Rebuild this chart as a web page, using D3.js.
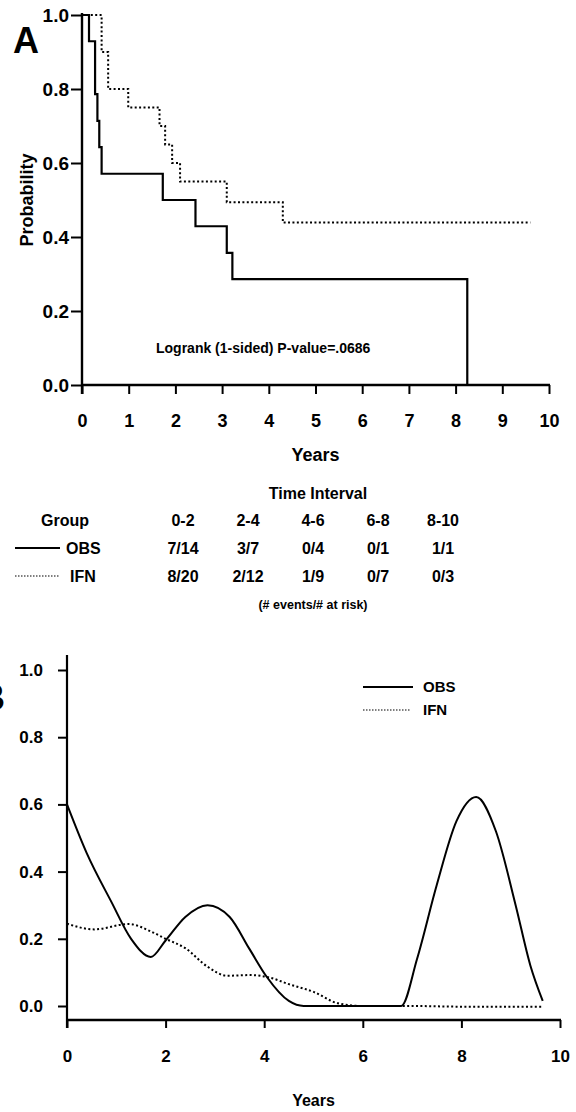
<!DOCTYPE html>
<html><head><meta charset="utf-8">
<script src="https://cdn.jsdelivr.net/npm/d3@7"></script>
<style>
html,body{margin:0;padding:0;background:#fff;}
svg{display:block;font-family:"Liberation Sans",Arial,Helvetica,sans-serif;}
</style></head>
<body>
<svg id="chart" width="576" height="1112"></svg>
<script>
// ---------- Data ----------
// Panel A: Kaplan-Meier survival estimates (time in years, probability)
const obsKmTimes = [0, 0.15, 0.28, 0.33, 0.37, 0.42, 1.73, 2.43, 3.10, 3.22, 8.25];
const obsKmSurv  = [1.0, 0.929, 0.786, 0.714, 0.643, 0.571, 0.500, 0.429, 0.357, 0.286, 0.0];
const ifnKmTimes = [0, 0.42, 0.56, 0.99, 1.66, 1.78, 1.93, 2.10, 3.10, 4.30, 9.60];
const ifnKmSurv  = [1.0, 0.90, 0.80, 0.75, 0.70, 0.65, 0.60, 0.55, 0.494, 0.439, 0.439];
const kmXTicks = [0,1,2,3,4,5,6,7,8,9,10];
const kmYTicks = [0.0,0.2,0.4,0.6,0.8,1.0];
const pValueText = "Logrank (1-sided) P-value=.0686";

// Risk table
const intervals = ["0-2","2-4","4-6","6-8","8-10"];
const groups = ["OBS","IFN"];
const obsEvents = ["7/14","3/7","0/4","0/1","1/1"];
const ifnEvents = ["8/20","2/12","1/9","0/7","0/3"];

// Panel B: smoothed hazard estimates
const obsHazTimes = [0, 0.4, 0.9, 1.3, 1.7, 2.0, 2.4, 2.85, 3.3, 3.7, 4.05, 4.5, 4.8, 5.5, 6.5, 6.78, 7.1, 7.5, 7.9, 8.3, 8.7, 9.1, 9.4, 9.65];
const obsHazVals  = [0.60, 0.455, 0.31, 0.20, 0.146, 0.195, 0.265, 0.30, 0.265, 0.17, 0.087, 0.015, 0.0, 0.0, 0.0, 0.0, 0.14, 0.36, 0.55, 0.622, 0.52, 0.30, 0.12, 0.015];
const ifnHazTimes = [0, 0.55, 1.25, 1.7, 2.0, 2.4, 2.85, 3.25, 3.7, 4.1, 4.5, 5.0, 5.5, 6.0, 7.0, 8.0, 9.0, 9.65];
const ifnHazVals  = [0.245, 0.228, 0.244, 0.222, 0.20, 0.172, 0.117, 0.09, 0.092, 0.085, 0.065, 0.042, 0.008, 0.0, 0.0, -0.002, -0.002, -0.002];
const hazXTicks = [0,2,4,6,8,10];
const hazYTicks = [0.0,0.2,0.4,0.6,0.8,1.0];

// ---------- Drawing ----------
const svg = d3.select("#chart");
const FONT = '"Liberation Sans",Arial,Helvetica,sans-serif';
const zip = (a,b) => a.map((v,i)=>[v,b[i]]);

// ===== Panel A =====
const xA = d3.scaleLinear().domain([0,10]).range([82,549]);
const yA = d3.scaleLinear().domain([0,1]).range([385,15]);

const gA = svg.append("g");
// y axis
const yAxisA = gA.append("g").attr("transform",`translate(${xA(0)},0)`)
  .call(d3.axisLeft(yA).tickValues(kmYTicks).tickFormat(d3.format(".1f")).tickSize(11).tickPadding(2));
yAxisA.select(".domain").remove();
yAxisA.selectAll("line").attr("stroke","#000").attr("stroke-width",2);
yAxisA.selectAll("text").attr("font-size",19).attr("font-weight","bold").attr("font-family",FONT).attr("fill","#000");
gA.append("line").attr("x1",xA(0)).attr("x2",xA(0)).attr("y1",yA(1)-2).attr("y2",yA(0)+9)
  .attr("stroke","#000").attr("stroke-width",2.4);
// x axis
const xAxisA = gA.append("g").attr("transform",`translate(0,${yA(0)})`)
  .call(d3.axisBottom(xA).tickValues(kmXTicks).tickFormat(d3.format("d")).tickSize(9).tickPadding(20));
xAxisA.select(".domain").remove();
xAxisA.selectAll("line").attr("stroke","#000").attr("stroke-width",2);
xAxisA.selectAll("text").attr("font-size",18).attr("font-weight","bold").attr("font-family",FONT).attr("fill","#000");
gA.append("line").attr("x1",xA(0)).attr("x2",xA(10)+1).attr("y1",yA(0)).attr("y2",yA(0))
  .attr("stroke","#000").attr("stroke-width",2.4);

const stepLine = d3.line().x(d=>xA(d[0])).y(d=>yA(d[1])).curve(d3.curveStepAfter);
gA.append("path").datum(zip(obsKmTimes,obsKmSurv)).attr("d",stepLine)
  .attr("fill","none").attr("stroke","#000").attr("stroke-width",2.2);
gA.append("path").datum(zip(ifnKmTimes,ifnKmSurv)).attr("d",stepLine)
  .attr("fill","none").attr("stroke","#000").attr("stroke-width",2).attr("stroke-dasharray","2,2.4");

gA.append("text").attr("x",26).attr("y",53).attr("font-size",36).attr("font-weight","bold").attr("font-family",FONT)
  .attr("text-anchor","middle").text("A");
gA.append("text").attr("transform",`translate(33,${(yA(0)+yA(1))/2}) rotate(-90)`)
  .attr("text-anchor","middle").attr("font-size",18).attr("font-weight","bold").attr("font-family",FONT).text("Probability");
gA.append("text").attr("x",xA(5)).attr("y",461).attr("text-anchor","middle")
  .attr("font-size",18).attr("font-weight","bold").attr("font-family",FONT).text("Years");
gA.append("text").attr("x",156).attr("y",353).attr("font-size",14).attr("font-weight","bold")
  .attr("font-family",FONT).text(pValueText);

// ===== Risk table =====
const colX = d3.scalePoint().domain(intervals).range([183,443]);
const gT = svg.append("g").attr("font-family",FONT).attr("font-weight","bold").attr("font-size",16).attr("fill","#000");
gT.append("text").attr("x",318).attr("y",499).attr("text-anchor","middle").text("Time Interval");
gT.append("text").attr("x",65).attr("y",526).attr("text-anchor","middle").text("Group");
gT.selectAll("text.hdr").data(intervals).join("text").attr("class","hdr")
  .attr("x",d=>colX(d)).attr("y",526).attr("text-anchor","middle").text(d=>d);
const rowY = {OBS:554, IFN:582};
const rowVals = {OBS:obsEvents, IFN:ifnEvents};
groups.forEach(g=>{
  gT.selectAll("text.v"+g).data(rowVals[g]).join("text").attr("class","v"+g)
    .attr("x",(d,i)=>colX(intervals[i])).attr("y",rowY[g]).attr("text-anchor","middle").text(d=>d);
});
gT.append("line").attr("x1",15).attr("x2",60).attr("y1",rowY.OBS-6).attr("y2",rowY.OBS-6)
  .attr("stroke","#000").attr("stroke-width",1.8);
gT.append("text").attr("x",66).attr("y",rowY.OBS).text("OBS");
gT.append("line").attr("x1",15).attr("x2",60).attr("y1",rowY.IFN-6).attr("y2",rowY.IFN-6)
  .attr("stroke","#000").attr("stroke-width",1.2).attr("stroke-dasharray","1.5,1.5");
gT.append("text").attr("x",70).attr("y",rowY.IFN).text("IFN");
gT.append("text").attr("x",313).attr("y",609).attr("text-anchor","middle").attr("font-size",12.5)
  .text("(# events/# at risk)");

// ===== Panel B =====
const xB = d3.scaleLinear().domain([0,10]).range([67,560]);
const yB = d3.scaleLinear().domain([0,1]).range([1006,670]);
const gB = svg.append("g");
const yAxisB = gB.append("g").attr("transform",`translate(${xB(0)},0)`)
  .call(d3.axisLeft(yB).tickValues(hazYTicks).tickFormat(d3.format(".1f")).tickSize(9).tickPadding(15));
yAxisB.select(".domain").remove();
yAxisB.selectAll("line").attr("stroke","#000").attr("stroke-width",2);
yAxisB.selectAll("text").attr("font-size",17).attr("font-weight","bold").attr("font-family",FONT).attr("fill","#000");
gB.append("line").attr("x1",xB(0)).attr("x2",xB(0)).attr("y1",655).attr("y2",1028)
  .attr("stroke","#000").attr("stroke-width",2.2);
const xAxisB = gB.append("g").attr("transform",`translate(0,1020)`)
  .call(d3.axisBottom(xB).tickValues(hazXTicks).tickFormat(d3.format("d")).tickSize(8).tickPadding(22));
xAxisB.select(".domain").remove();
xAxisB.selectAll("line").attr("stroke","#000").attr("stroke-width",2);
xAxisB.selectAll("text").attr("font-size",17).attr("font-weight","bold").attr("font-family",FONT).attr("fill","#000");
gB.append("line").attr("x1",xB(0)).attr("x2",xB(10)+1).attr("y1",1020).attr("y2",1020)
  .attr("stroke","#000").attr("stroke-width",2.4);

const smooth = d3.line().x(d=>xB(d[0])).y(d=>yB(d[1])).curve(d3.curveMonotoneX);
gB.append("path").datum(zip(obsHazTimes,obsHazVals)).attr("d",smooth)
  .attr("fill","none").attr("stroke","#000").attr("stroke-width",2);
gB.append("path").datum(zip(ifnHazTimes,ifnHazVals)).attr("d",smooth)
  .attr("fill","none").attr("stroke","#000").attr("stroke-width",2).attr("stroke-dasharray","2,2.4");

gB.append("text").attr("x",-21).attr("y",710).attr("font-size",36).attr("font-weight","bold").attr("font-family",FONT).text("B");
gB.append("text").attr("x",xB(5)).attr("y",1106).attr("text-anchor","middle")
  .attr("font-size",16).attr("font-weight","bold").attr("font-family",FONT).text("Years");
// legend
const leg = gB.append("g").attr("font-family",FONT).attr("font-size",15).attr("font-weight","bold");
leg.append("line").attr("x1",363).attr("x2",413).attr("y1",687).attr("y2",687).attr("stroke","#000").attr("stroke-width",1.8);
leg.append("text").attr("x",423).attr("y",692).text(groups[0]);
leg.append("line").attr("x1",363).attr("x2",410).attr("y1",710).attr("y2",710).attr("stroke","#000").attr("stroke-width",1.2).attr("stroke-dasharray","1.5,1.5");
leg.append("text").attr("x",423).attr("y",715).text(groups[1]);
</script>
</body></html>
